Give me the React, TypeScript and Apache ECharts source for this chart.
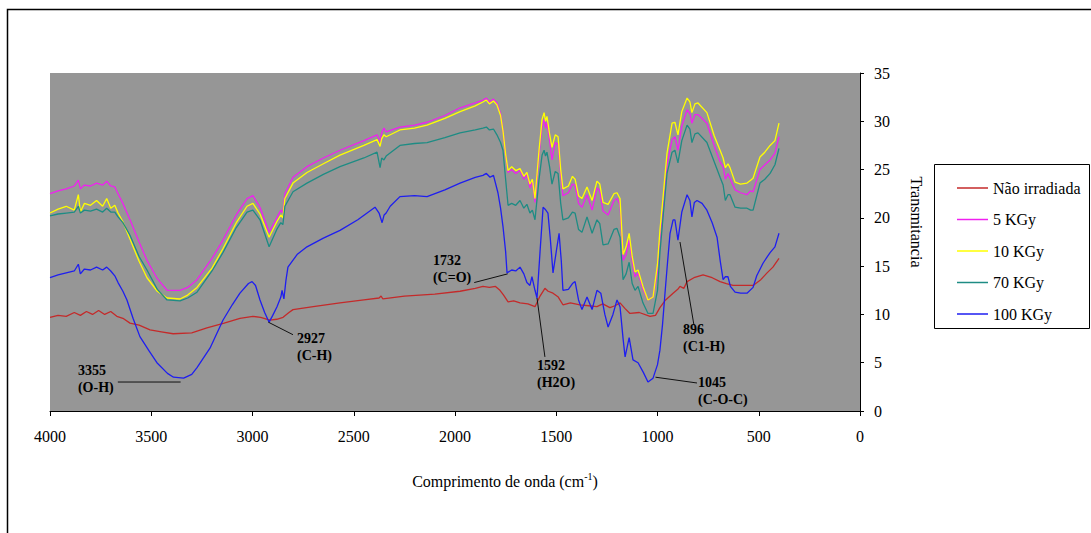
import React, { useEffect, useRef } from "react";
import * as echarts from "echarts";

// ---- Data (wavenumber cm-1 , transmittance) ----
const xTickMin = 0;
const xTickMax = 4000;
const yTickMin = 0;
const yTickMax = 35;

const seriesNames = ["Não irradiada", "5 KGy", "10 KGy", "70 KGy", "100 KGy"];
const seriesColors = ["#C42A2A", "#F020F0", "#FFFF00", "#1E8C84", "#1E1EF0"];

const redWn = [
  4000, 3960, 3920, 3880, 3850, 3820, 3790, 3760, 3730, 3700,
  3670, 3640, 3605, 3560, 3506, 3450, 3392, 3300, 3225, 3140,
  3062, 2998, 2960, 2914, 2880, 2849, 2820, 2800, 2700, 2568,
  2450, 2375, 2365, 2356, 2250, 2100, 1975, 1900, 1862, 1830,
  1800, 1778, 1760, 1738, 1710, 1679, 1640, 1605, 1580, 1556,
  1540, 1516, 1490, 1467, 1430, 1383, 1340, 1299, 1270, 1235,
  1210, 1185, 1160, 1136, 1090, 1037, 1010, 988, 960, 923,
  900, 889, 870, 854, 820, 775, 730, 691, 660, 627,
  580, 528, 490, 459, 430, 400,
];
const redT = [
  9.7, 9.9, 9.8, 10.2, 9.9, 10.3, 10.0, 10.4, 10.0, 10.3,
  9.8, 9.6, 9.1, 8.9, 8.4, 8.2, 8.0, 8.1, 8.6, 9.1,
  9.6, 9.8, 9.7, 9.4, 9.5, 9.7, 10.2, 10.5, 10.8, 11.2,
  11.5, 11.7, 11.9, 11.6, 11.9, 12.1, 12.4, 12.7, 12.9, 12.8,
  12.9, 12.5, 12.0, 11.3, 11.4, 11.2, 11.1, 10.8, 11.9, 12.7,
  12.4, 12.2, 11.8, 11.0, 11.2, 11.0, 10.9, 10.8, 11.1, 10.7,
  10.9, 11.2, 10.6, 10.1, 10.2, 9.8, 9.9, 10.7, 11.5, 12.2,
  12.6, 12.9, 12.7, 13.4, 13.8, 14.1, 13.8, 13.4, 13.2, 13.0,
  13.0, 13.0, 13.6, 14.3, 14.9, 15.8,
];

// shared wavenumbers of the 5, 10 and 70 KGy spectra
const irrWn = [
  4000, 3960, 3920, 3880, 3860, 3850, 3830, 3800, 3770, 3740,
  3720, 3700, 3680, 3664, 3640, 3605, 3560, 3521, 3470, 3422,
  3358, 3320, 3274, 3200, 3146, 3080, 3027, 2998, 2963, 2918,
  2880, 2860, 2850, 2840, 2800, 2731, 2650, 2568, 2450, 2385,
  2370, 2362, 2351, 2340, 2272, 2200, 2138, 2050, 1975, 1900,
  1862, 1845, 1830, 1810, 1793, 1775, 1763, 1750, 1738, 1720,
  1700, 1679, 1660, 1645, 1630, 1618, 1605, 1585, 1570, 1560,
  1553, 1546, 1533, 1521, 1505, 1491, 1478, 1467, 1440, 1420,
  1407, 1390, 1373, 1348, 1323, 1299, 1285, 1269, 1244, 1215,
  1200, 1185, 1170, 1155, 1140, 1125, 1111, 1096, 1072, 1047,
  1022, 1000, 988, 973, 953, 928, 914, 899, 880, 854,
  840, 830, 815, 800, 756, 720, 691, 676, 665, 652,
  642, 617, 590, 558, 540, 528, 494, 470, 444, 420,
  400,
];
const kgy5T = [
  22.5, 22.8, 23.0, 23.3, 23.9, 23.0, 23.4, 23.3, 23.6, 23.4,
  23.8, 23.3, 23.2, 22.5, 21.5, 19.8, 17.5, 15.6, 13.7, 12.5,
  12.5, 12.8, 13.6, 15.8, 17.7, 20.3, 22.0, 22.3, 21.1, 18.5,
  20.0, 20.8, 20.5, 22.5, 24.2, 25.3, 26.2, 27.0, 28.0, 28.6,
  27.9, 28.8, 29.3, 28.9, 29.4, 29.6, 29.9, 30.6, 31.4, 31.9,
  32.2, 32.4, 32.0, 32.3, 31.9, 30.8, 29.1, 26.5, 24.7, 25.0,
  24.6, 24.9, 24.0, 24.5, 23.1, 23.8, 21.6, 26.5, 29.5, 30.2,
  29.3, 29.9, 28.0, 26.0, 27.8, 27.6, 24.5, 22.3, 22.6, 23.5,
  23.4, 21.5, 21.1, 22.4, 20.8, 23.1, 22.8, 20.7, 20.3, 21.8,
  22.0, 21.3, 15.6, 16.2, 17.7, 15.5, 13.9, 14.3, 12.6, 11.5,
  11.8, 14.5, 17.7, 20.5, 25.5, 28.1, 28.4, 27.0, 29.5, 31.2,
  30.8, 29.8, 30.7, 30.7, 29.8, 27.5, 25.8, 25.3, 24.0, 24.6,
  24.1, 22.9, 22.6, 22.4, 22.8, 22.7, 25.0, 25.5, 26.0, 26.7,
  28.4,
];
const kgy10T = [
  20.5, 20.9, 21.2, 20.8, 22.4, 20.6, 21.5, 21.3, 21.8, 21.2,
  22.0, 21.0, 21.3, 20.5, 19.6, 17.8, 15.5, 13.8, 12.4, 11.7,
  11.6, 12.0, 12.8, 14.8, 16.8, 19.5, 21.2, 21.5, 20.4, 18.0,
  19.6, 20.3, 20.0, 22.0, 23.6, 24.7, 25.6, 26.5, 27.5, 28.1,
  27.4, 28.2, 28.6, 28.4, 29.1, 29.3, 29.6, 30.3, 31.0, 31.6,
  32.0, 32.2, 31.8, 32.1, 31.7, 30.6, 29.0, 26.6, 24.9, 25.3,
  24.9, 25.1, 24.3, 24.7, 23.5, 24.0, 22.0, 27.0, 30.2, 30.9,
  30.0, 30.5, 28.7, 27.3, 28.6, 28.4, 25.0, 23.0, 23.3, 24.3,
  24.0, 22.3, 22.0, 23.2, 21.8, 23.8, 23.5, 21.6, 21.4, 22.5,
  22.6, 22.0, 16.2, 17.0, 18.4, 16.0, 14.4, 14.6, 12.9, 11.5,
  11.8, 15.2, 18.7, 22.0, 26.7, 29.8, 29.9, 28.6, 31.0, 32.4,
  32.0, 30.9, 31.8, 31.9, 30.9, 28.5, 27.0, 26.2, 25.2, 25.6,
  25.2, 23.7, 23.5, 23.6, 23.9, 24.1, 26.3, 26.8, 27.5, 28.0,
  29.8,
];
const kgy70T = [
  20.2, 20.4, 20.5, 20.6, 21.2, 20.5, 20.8, 20.7, 20.9, 20.6,
  21.0, 20.6, 20.6, 20.1, 19.5, 18.2, 16.0, 14.6, 12.6, 11.5,
  11.4, 11.7, 12.3, 14.5, 16.4, 19.0, 20.6, 20.8, 19.8, 17.0,
  18.8, 19.5, 19.3, 21.2, 22.7, 23.6, 24.5, 25.3, 26.2, 26.8,
  25.2, 26.2, 26.0, 26.4, 27.5, 27.7, 27.8, 28.3, 28.8, 29.1,
  29.3, 29.4, 29.1, 29.2, 28.6, 27.8, 27.0, 24.0, 21.3, 21.5,
  21.3, 21.8, 21.0, 21.4, 20.5, 20.8, 19.8, 24.0, 26.5, 27.0,
  26.4, 26.8, 25.3, 23.5, 24.8, 24.6, 21.5, 19.8, 20.0, 20.6,
  20.5, 18.8, 18.5, 20.1, 18.4, 19.8, 19.4, 17.2, 17.3, 18.8,
  18.9, 18.0, 13.6, 14.2, 15.4, 13.2, 12.5, 12.9, 11.2, 10.1,
  10.1, 12.5, 16.4, 20.0, 24.6, 26.8, 27.0, 25.7, 28.0, 29.6,
  29.2, 27.8, 28.7, 28.8, 27.8, 25.8, 24.2, 23.4, 21.8, 22.4,
  22.4, 21.1, 21.0, 21.0, 20.8, 20.8, 23.6, 24.0, 24.6, 25.5,
  27.2,
];

const blueWn = [
  4000, 3960, 3920, 3880, 3860, 3850, 3830, 3800, 3770, 3740,
  3720, 3700, 3680, 3664, 3640, 3620, 3590, 3556, 3510, 3472,
  3420, 3390, 3340, 3300, 3274, 3210, 3146, 3100, 3062, 3020,
  3002, 2985, 2963, 2940, 2918, 2900, 2879, 2860, 2854, 2845,
  2835, 2825, 2780, 2731, 2650, 2568, 2480, 2395, 2375, 2360,
  2350, 2340, 2320, 2272, 2200, 2138, 2050, 1975, 1900, 1862,
  1845, 1827, 1810, 1788, 1775, 1763, 1750, 1743, 1720, 1700,
  1679, 1660, 1645, 1630, 1620, 1605, 1595, 1580, 1565, 1555,
  1541, 1530, 1516, 1500, 1486, 1475, 1467, 1440, 1420, 1407,
  1390, 1373, 1348, 1323, 1299, 1280, 1260, 1244, 1220, 1200,
  1185, 1170, 1160, 1140, 1121, 1096, 1070, 1047, 1022, 1000,
  988, 975, 963, 950, 938, 923, 914, 899, 880, 854,
  840, 830, 818, 805, 780, 756, 730, 706, 690, 676,
  665, 652, 640, 617, 590, 558, 528, 510, 479, 460,
  444, 420, 400,
];
const blueT = [
  13.8, 14.1, 14.3, 14.5, 15.2, 14.2, 14.7, 14.6, 14.9, 14.6,
  14.9, 14.5, 14.0, 13.3, 12.4, 11.5, 9.6, 7.7, 6.2, 5.0,
  3.9, 3.5, 3.4, 3.8, 4.5, 6.5, 9.4, 11.0, 12.2, 13.2,
  13.4, 13.0, 11.5, 10.2, 9.2, 9.9, 10.8, 11.8, 12.5, 11.6,
  13.5, 14.9, 16.2, 17.0, 17.9, 18.7, 19.8, 21.1, 20.5, 19.5,
  20.3, 20.5, 21.2, 22.2, 22.3, 22.2, 22.9, 23.6, 24.2, 24.4,
  24.6, 24.2, 24.4, 22.6, 21.0, 19.1, 16.5, 14.3, 14.6, 14.5,
  14.9, 14.2, 13.3, 13.0, 13.9, 12.5, 11.7, 16.5, 21.1, 20.9,
  20.5, 18.0, 14.3, 16.5, 18.4, 15.5, 12.5, 12.6, 13.2, 13.4,
  11.5, 10.5, 11.8, 10.5, 12.5, 12.2, 10.0, 8.7, 10.0, 11.5,
  10.8, 7.5, 5.6, 7.6, 5.3, 5.0, 4.0, 3.0, 3.4, 4.8,
  6.3, 9.0, 12.2, 15.5, 18.4, 19.8, 19.8, 17.7, 20.6, 22.4,
  21.8, 20.1, 21.6, 21.8, 21.5, 20.8, 19.5, 18.0, 15.5, 13.6,
  13.9, 13.9, 12.9, 12.3, 12.2, 12.2, 12.8, 14.0, 15.3, 15.9,
  16.4, 17.0, 18.4,
];

// peak annotations, in data coordinates (wavenumber, transmittance)
const annotationLabels = [
  ["3355", "(O-H)"],
  ["2927", "(C-H)"],
  ["1732", "(C=O)"],
  ["1592", "(H2O)"],
  ["896", "(C1-H)"],
  ["1045", "(C-O-C)"],
];
const annotationTextAt = [
  [3862, 5.07],
  [2780, 8.43],
  [2109, 16.51],
  [1595, 5.64],
  [874, 9.27],
  [800, 3.78],
];
const annotationFrom = [
  [3355, 3.0],
  [2922, 9.2],
  [1740, 14.2],
  [1595, 11.7],
  [889, 17.5],
  [1010, 3.5],
];
const annotationTo = [
  [3665, 3.0],
  [2800, 7.9],
  [1905, 13.3],
  [1556, 5.6],
  [820, 8.9],
  [805, 2.9],
];

const FONT = "'Liberation Serif', 'Times New Roman', serif";

export default function App() {
  const ref = useRef<HTMLDivElement>(null);

  useEffect(() => {
    if (!ref.current) return;
    const chart = echarts.init(ref.current, null, { renderer: "svg" });
    const zip = (xs: number[], ys: number[]) => xs.map((x, i) => [x, ys[i]]);
    const datasets = [
      zip(redWn, redT),
      zip(irrWn, kgy5T),
      zip(irrWn, kgy10T),
      zip(irrWn, kgy70T),
      zip(blueWn, blueT),
    ];

    chart.setOption({
      animation: false,
      grid: {
        left: 50,
        top: 73,
        width: 810,
        height: 338,
        show: true,
        backgroundColor: "#969696",
        borderWidth: 0,
      },
      xAxis: {
        type: "value",
        min: xTickMin,
        max: xTickMax,
        interval: 500,
        inverse: true,
        axisLine: { show: true, onZero: false, lineStyle: { color: "#000", width: 1 } },
        axisTick: { show: true, length: 5, lineStyle: { color: "#000" } },
        axisLabel: {
          fontFamily: FONT,
          fontSize: 16,
          color: "#000",
          margin: 17,
          formatter: (v: number) => String(v),
        },
        splitLine: { show: false },
      },
      yAxis: {
        type: "value",
        position: "right",
        min: yTickMin,
        max: yTickMax,
        interval: 5,
        axisLine: { show: true, onZero: false, lineStyle: { color: "#000", width: 1 } },
        axisTick: { show: true, length: 4, lineStyle: { color: "#000" } },
        axisLabel: { fontFamily: FONT, fontSize: 16, color: "#000", margin: 14 },
        splitLine: { show: false },
      },
      legend: {
        show: true,
        left: 952,
        top: 175,
        orient: "vertical",
        icon: "rect",
        itemWidth: 31,
        itemHeight: 1.5,
        itemGap: 15.5,
        selectedMode: false,
        textStyle: { fontFamily: FONT, fontSize: 16, color: "#000" },
        data: seriesNames,
      },
      series: seriesNames.map((name, i) => ({
        type: "line",
        name,
        data: datasets[i],
        showSymbol: false,
        symbol: "none",
        smooth: false,
        lineStyle: { color: seriesColors[i], width: 1.3 },
        itemStyle: { color: seriesColors[i] },
        z: 2 + i,
      })),
    });

    const toPx = (p: number[]) => chart.convertToPixel({ gridIndex: 0 }, p) as number[];
    const graphics: any[] = [];
    // outer frame (top and left edges visible)
    graphics.push({
      type: "rect",
      shape: { x: 7.5, y: 9.5, width: 1200, height: 700 },
      style: { fill: "none", stroke: "#000", lineWidth: 1.5 },
      silent: true,
      z: 0,
    });
    // legend box
    graphics.push({
      type: "rect",
      shape: { x: 934.5, y: 164.5, width: 155, height: 164 },
      style: { fill: "none", stroke: "#000", lineWidth: 1 },
      silent: true,
      z: 0,
    });
    // axis titles
    graphics.push({
      type: "text",
      x: 505,
      y: 480,
      style: {
        text: "{a|Comprimento de onda (cm}{s|-1}{a|)}",
        align: "center",
        verticalAlign: "middle",
        rich: {
          a: { fontFamily: FONT, fontSize: 16, fill: "#000", lineHeight: 18, verticalAlign: "bottom" },
          s: { fontFamily: FONT, fontSize: 10, fill: "#000", lineHeight: 18, verticalAlign: "top" },
        },
      },
      z: 10,
    });
    graphics.push({
      type: "text",
      x: 916,
      y: 222,
      rotation: -Math.PI / 2,
      style: {
        text: "Transmitancia",
        align: "center",
        verticalAlign: "middle",
        fontFamily: FONT,
        fontSize: 16,
        fill: "#000",
      },
      z: 10,
    });
    // annotations
    annotationLabels.forEach((lab, i) => {
      const a = toPx(annotationFrom[i]);
      const b = toPx(annotationTo[i]);
      const t = toPx(annotationTextAt[i]);
      graphics.push({
        type: "line",
        shape: { x1: a[0], y1: a[1], x2: b[0], y2: b[1] },
        style: { stroke: "#111", lineWidth: 1 },
        silent: true,
        z: 20,
      });
      graphics.push({
        type: "text",
        x: t[0],
        y: t[1],
        style: {
          text: lab.join("\n"),
          align: "left",
          verticalAlign: "top",
          fontFamily: FONT,
          fontWeight: "bold",
          fontSize: 14,
          lineHeight: 17,
          fill: "#000",
        },
        silent: true,
        z: 20,
      });
    });
    chart.setOption({ graphic: graphics });

    return () => chart.dispose();
  }, []);

  return (
    <div
      ref={ref}
      style={{ position: "absolute", left: 0, top: 0, width: 1091, height: 533, background: "#fff" }}
    />
  );
}
